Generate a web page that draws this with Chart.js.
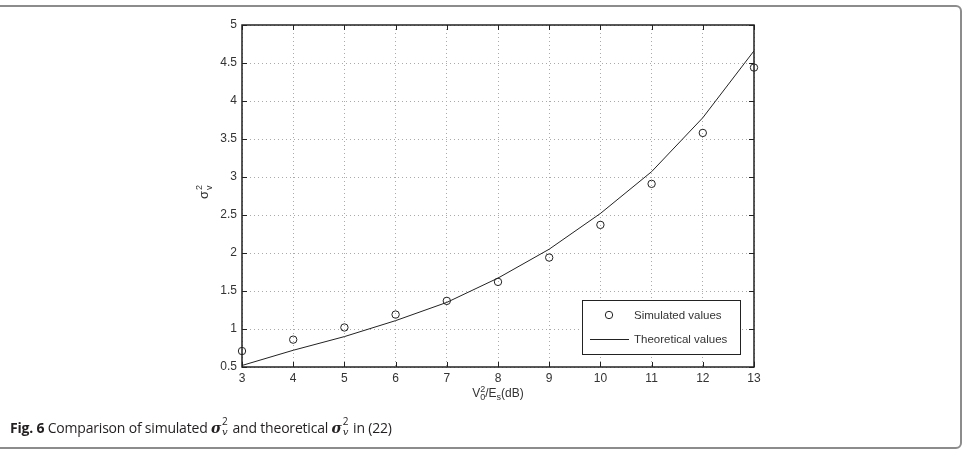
<!DOCTYPE html>
<html>
<head>
<meta charset="utf-8">
<script src="https://cdn.jsdelivr.net/npm/chart.js@4"></script>
<style>
  html, body { margin: 0; padding: 0; background: #fff; }
  #wrap { position: relative; width: 968px; height: 456px; overflow: hidden; }
  #box { position: absolute; left: -12px; top: 5px; width: 974px; height: 444px; box-sizing: border-box;
         border: 2px solid #8c8c8c; border-radius: 6px; }
  #cv { position: absolute; left: 0; top: 0; }
  #caption { position: absolute; left: 10px; top: 418px; font-family: "Open Sans", sans-serif; font-size: 14px; letter-spacing: -0.2px; color: #231f20; white-space: nowrap; }
  #caption b { font-weight: 700; }
  .sg { font-family: "DejaVu Serif", serif; font-style: italic; font-weight: bold; font-size: 14px; }
  .st { display: inline-block; position: relative; width: 8px; height: 1em; }
  .st .a { position: absolute; left: 1px; top: -5px; font-size: 10px; }
  .st .b { position: absolute; left: 1px; top: 7px; font-size: 10px; font-family: "DejaVu Serif", serif; font-style: italic; }
</style>
</head>
<body>
<div id="wrap">
  <div id="box"></div>
  <canvas id="cv" width="968" height="456"></canvas>
  <div id="caption"><b>Fig. 6</b> Comparison of simulated <span class="sg">σ</span><span class="st"><span class="a">2</span><span class="b">v</span></span> and theoretical <span class="sg">σ</span><span class="st"><span class="a">2</span><span class="b">v</span></span> in (22)</div>
</div>
<script>
// V0^2/Es in dB
const snrDb = [3, 4, 5, 6, 7, 8, 9, 10, 11, 12, 13];
const simulated = [0.71, 0.86, 1.02, 1.19, 1.37, 1.62, 1.94, 2.37, 2.91, 3.58, 4.44];
const theoretical = [0.52, 0.72, 0.90, 1.11, 1.35, 1.67, 2.05, 2.52, 3.07, 3.78, 4.66];
const xTicks = [3, 4, 5, 6, 7, 8, 9, 10, 11, 12, 13];
const yTicks = [0.5, 1, 1.5, 2, 2.5, 3, 3.5, 4, 4.5, 5];

const tickFont = { family: 'Liberation Sans, Arial, sans-serif', size: 12 };
const ink = '#222';

function seg(ctx, x1, y1, x2, y2) {
    ctx.beginPath();
    ctx.moveTo(x1, y1);
    ctx.lineTo(x2, y2);
    ctx.stroke();
}

// matlab style box, inward ticks, axis titles and legend
const matlabAxes = {
    id: 'matlabAxes',
    afterDraw(chart) {
        const { ctx, chartArea: a, scales: { x, y } } = chart;
        ctx.save();
        ctx.strokeStyle = ink;
        ctx.lineWidth = 1;
        xTicks.forEach(v => {
            const px = Math.round(x.getPixelForValue(v)) + 0.5;
            seg(ctx, px, a.bottom, px, a.bottom - 5);
            seg(ctx, px, a.top, px, a.top + 5);
        });
        yTicks.forEach(v => {
            const py = Math.round(y.getPixelForValue(v)) + 0.5;
            seg(ctx, a.left, py, a.left + 5, py);
            seg(ctx, a.right, py, a.right - 5, py);
        });
        ctx.lineWidth = 1.5;
        ctx.strokeRect(a.left, a.top, a.right - a.left, a.bottom - a.top);

        // x title: V0^2/Es(dB)
        ctx.fillStyle = '#333';
        ctx.textBaseline = 'alphabetic';
        ctx.textAlign = 'left';
        const big = '12px Liberation Sans, Arial, sans-serif';
        const small = '9px Liberation Sans, Arial, sans-serif';
        ctx.font = big;
        const wV = ctx.measureText('V').width;
        const wE = ctx.measureText('/E').width;
        const wdB = ctx.measureText('(dB)').width;
        ctx.font = small;
        const wS = ctx.measureText('2').width;
        const ws = ctx.measureText('s').width;
        const total = wV + wS + wE + ws + wdB;
        let cx = (a.left + a.right) / 2 - total / 2;
        const base = a.bottom + 30;
        ctx.font = big;
        ctx.fillText('V', cx, base); cx += wV;
        ctx.font = small;
        ctx.fillText('2', cx, base - 5);
        ctx.fillText('0', cx, base + 3); cx += wS;
        ctx.font = big;
        ctx.fillText('/E', cx, base); cx += wE;
        ctx.font = small;
        ctx.fillText('s', cx, base + 3); cx += ws;
        ctx.font = big;
        ctx.fillText('(dB)', cx, base);

        // y title: sigma_v^2, rotated
        ctx.save();
        ctx.translate(a.left - 34, (a.top + a.bottom) / 2 - 5);
        ctx.rotate(-Math.PI / 2);
        ctx.font = '13px Liberation Sans, Arial, sans-serif';
        const wsg = ctx.measureText('σ').width;
        ctx.fillText('σ', -wsg, 0);
        ctx.font = '9px Liberation Sans, Arial, sans-serif';
        ctx.fillText('2', 1, -6);
        ctx.fillText('v', 1, 4);
        ctx.restore();

        // legend
        const lw = 158, lh = 54;
        const lx = a.right - 14 - lw, ly = a.bottom - 13 - lh;
        ctx.fillStyle = '#fff';
        ctx.fillRect(lx, ly, lw, lh);
        ctx.lineWidth = 1;
        ctx.strokeStyle = ink;
        ctx.strokeRect(lx + 0.5, ly + 0.5, lw, lh);
        const ds = chart.data.datasets;
        ctx.font = '11.5px Liberation Sans, Arial, sans-serif';
        ctx.fillStyle = '#333';
        ctx.beginPath();
        ctx.arc(lx + 27, ly + 15, 3.7, 0, Math.PI * 2);
        ctx.stroke();
        ctx.fillText(ds[0].label, lx + 52, ly + 19);
        seg(ctx, lx + 8, ly + 39.5, lx + 47, ly + 39.5);
        ctx.fillText(ds[1].label, lx + 52, ly + 43);
        ctx.restore();
    }
};

new Chart(document.getElementById('cv'), {
    type: 'line',
    data: {
        datasets: [{
            label: 'Simulated values',
            data: snrDb.map((v, i) => ({ x: v, y: simulated[i] })),
            showLine: false,
            pointStyle: 'circle',
            pointRadius: 3.7,
            pointBorderWidth: 1,
            pointBorderColor: ink,
            pointBackgroundColor: 'rgba(0,0,0,0)',
            clip: false
        }, {
            label: 'Theoretical values',
            data: snrDb.map((v, i) => ({ x: v, y: theoretical[i] })),
            borderColor: ink,
            borderWidth: 1,
            pointRadius: 0,
            tension: 0,
            fill: false
        }]
    },
    options: {
        responsive: false,
        animation: false,
        events: [],
        layout: { padding: { left: 202, top: 25, right: 214, bottom: 0 } },
        plugins: { legend: { display: false }, tooltip: { enabled: false } },
        scales: {
            x: {
                type: 'linear',
                min: 3, max: 13,
                afterBuildTicks: s => { s.ticks = xTicks.map(v => ({ value: v })); },
                afterFit: s => { s.height = 89; },
                grid: { color: '#aaa', lineWidth: 1, drawTicks: false },
                border: { display: false, dash: [1, 3] },
                ticks: { color: '#333', font: tickFont, padding: 4, maxRotation: 0, callback: v => String(v) }
            },
            y: {
                type: 'linear',
                min: 0.5, max: 5,
                afterBuildTicks: s => { s.ticks = yTicks.map(v => ({ value: v })); },
                afterFit: s => { s.width = 40; },
                grid: { color: '#aaa', lineWidth: 1, drawTicks: false },
                border: { display: false, dash: [1, 3] },
                ticks: { color: '#333', font: tickFont, padding: 5, callback: v => String(v) }
            }
        }
    },
    plugins: [matlabAxes]
});
</script>
</body>
</html>
